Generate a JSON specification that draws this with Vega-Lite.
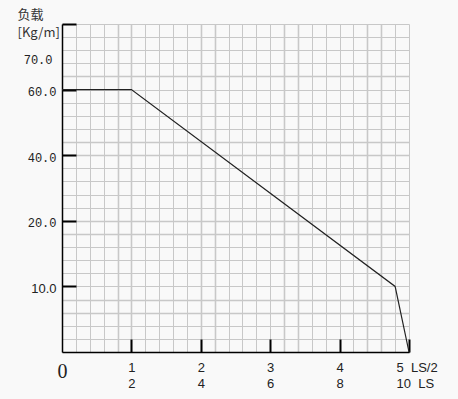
{
  "$schema": "https://vega.github.io/schema/vega-lite/v6.json",
  "width": 347,
  "height": 328,
  "autosize": {"type": "none"},
  "padding": {"left": 62, "top": 24, "right": 49, "bottom": 47},
  "background": "#f9f9f9",
  "config": {"view": {"stroke": null}},
  "data": {"values": [
    {"ls_half": 0, "load": 60},
    {"ls_half": 1, "load": 60},
    {"ls_half": 4.8, "load": 10},
    {"ls_half": 5, "load": 0}
  ]},
  "mark": {"type": "line", "color": "#222", "strokeWidth": 1.2},
  "encoding": {
    "x": {
      "field": "ls_half", "type": "quantitative",
      "scale": {"domain": [0, 5], "nice": false, "zero": false},
      "axis": {
        "title": null,
        "values": [0,0.2,0.4,0.6,0.8,1,1.2,1.4,1.6,1.8,2,2.2,2.4,2.6,2.8,3,3.2,3.4,3.6,3.8,4,4.2,4.4,4.6,4.8,5],
        "grid": true,
        "gridColor": "#c8c8c8",
        "gridWidth": {"condition": {"test": "indexof([0.8,1,2,2.2,3.2,3.4,4.4,4.6], datum.value) >= 0", "value": 1.6}, "value": 1},
        "domainColor": "#000",
        "domainWidth": 1.5,
        "tickColor": {"condition": {"test": "indexof([1,2,3,4,5], datum.value) >= 0", "value": "#000"}, "value": "transparent"},
        "tickWidth": 2,
        "tickSize": -13,
        "labelExpr": "datum.value==0 ? '0' : datum.value==1 ? ['1','2'] : datum.value==2 ? ['2','4'] : datum.value==3 ? ['3','6'] : datum.value==4 ? ['4','8'] : datum.value==5 ? ['\u00a05\u00a0\u00a0LS/2','10\u00a0\u00a0LS'] : ''",
        "labelFont": {"condition": {"test": "datum.value==0", "value": "Liberation Serif"}, "value": "Liberation Sans"},
        "labelFontSize": {"condition": {"test": "datum.value==0", "value": 20}, "value": 13},
        "labelAlign": {"condition": {"test": "datum.value==5", "value": "left"}, "value": "center"},
        "labelOffset": {"condition": {"test": "datum.value==5", "value": -13}, "value": 0},
        "labelBaseline": "top",
        "labelPadding": 22,
        "labelLineHeight": 16,
        "labelColor": "#222",
        "labelFlush": false,
        "labelOverlap": false,
        "labelBound": false
      }
    },
    "y": {
      "field": "load", "type": "quantitative",
      "scale": {"domain": [0, 10, 20, 40, 60, 80], "range": [328, 262.4, 196.8, 131.2, 65.6, 0], "nice": false, "zero": false},
      "axis": {
        "values": [0,2,4,6,8,10,12,14,16,18,20,24,28,32,36,40,44,48,52,56,60,64,68,70,72,76,80],
        "grid": true,
        "gridColor": {"condition": {"test": "datum.value==70", "value": "transparent"}, "value": "#c8c8c8"},
        "gridWidth": {"condition": {"test": "indexof([6,8,18,20,40,44,64], datum.value) >= 0", "value": 1.6}, "value": 1},
        "domainColor": "#000",
        "domainWidth": 1.5,
        "tickColor": {"condition": {"test": "indexof([10,20,40,60,80], datum.value) >= 0", "value": "#000"}, "value": "transparent"},
        "tickWidth": 2,
        "tickSize": -14,
        "labelExpr": "datum.value==10 ? '10.0' : indexof([20,40,60,70], datum.value) >= 0 ? format(datum.value, '.1f') : ''",
        "labelFont": {"condition": {"test": "datum.value==10", "value": "Liberation Sans"}, "value": "Liberation Mono"},
        "labelFontSize": {"condition": {"test": "datum.value==10", "value": 13}, "value": 12},
        "labelOffset": {"condition": {"test": "datum.value==70", "value": 3}, "value": 2},
        "labelPadding": {"condition": {"test": "datum.value==70", "value": 24}, "value": 20},
        "labelBaseline": "middle",
        "labelColor": "#222",
        "labelFlush": false,
        "labelOverlap": false,
        "labelBound": false,
        "title": ["负载", "[Kg/m]"],
        "titleAngle": 0,
        "titleAlign": "left",
        "titleBaseline": "top",
        "titleX": -45,
        "titleY": -16,
        "titleFont": "Noto Sans CJK SC",
        "titleFontSize": 13,
        "titleFontWeight": "normal",
        "titleLineHeight": 18,
        "titleColor": "#333"
      }
    }
  }
}
